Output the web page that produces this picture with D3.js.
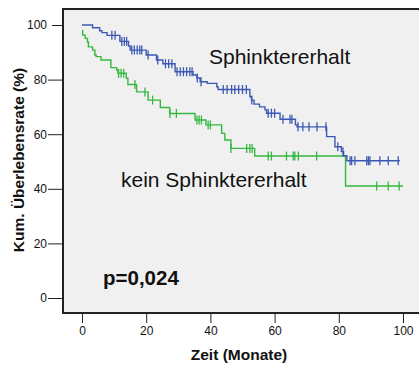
<!DOCTYPE html>
<html>
<head>
<meta charset="utf-8">
<script src="https://cdn.jsdelivr.net/npm/d3@7"></script>
<style>
  body { margin: 0; background: #fff; }
  svg { display: block; font-family: "Liberation Sans", Arial, Helvetica, sans-serif; }
</style>
</head>
<body>
<div id="chart"></div>
<script>
// Kaplan-Meier data (time in months, survival in %)
const sphTimes = [0, 3.3, 5.5, 6.2, 7.8, 11.8, 14.5, 15.0, 20.0, 23.2, 25.2, 29.0, 34.6, 35.8, 36.8, 39.0, 42.0, 42.4,
    52.3, 52.8, 53.6, 55.3, 57.0, 57.5, 61.7, 66.5, 67.0, 76.2, 78.8, 80.8, 81.5, 82.5];
const sphSurv = [100, 99.0, 97.9, 97.2, 96.2, 94.0, 92.3, 90.8, 89.0, 87.2, 85.8, 82.9, 81.7, 80.6, 79.2, 78.6, 77.4, 76.4,
    73.7, 72.5, 71.0, 70.0, 68.9, 67.7, 65.5, 63.4, 62.7, 59.1, 55.4, 53.6, 52.1, 50.3];
const sphCensor = [9.3, 10.3, 12.4, 13.2, 13.9, 15.5, 16.3, 17.2, 18.0, 18.6, 20.6, 23.6, 26.0, 27.0, 28.0,
    29.6, 30.6, 31.6, 32.6, 33.6, 34.3, 35.9, 37.1, 44.0, 45.2, 46.6, 47.6, 48.8, 50.0, 51.2, 52.9,
    58.0, 59.0, 60.0, 62.6, 64.8, 65.4, 67.3, 68.8, 70.7, 73.2, 76.0, 79.7, 81.3,
    83.5, 84.0, 85.0, 88.7, 89.2, 89.7, 92.8, 95.4, 98.5];
const sphEnd = 99;

const keinTimes = [0, 0.2, 1.0, 1.7, 2.0, 3.3, 4.0, 4.4, 5.9, 9.0, 10.8, 11.2, 13.8, 14.3, 17.0, 20.6, 24.4, 27.3,
    35.2, 38.6, 43.5, 44.5, 46.4, 53.8, 82.1];
const keinSurv = [98, 96.3, 95.1, 93.8, 92.0, 90.8, 89.0, 88.4, 87.2, 84.4, 83.5, 82.3, 80.5, 78.2, 75.5, 72.5, 69.8, 67.6,
    65.2, 63.4, 60.3, 57.9, 54.8, 52.0, 41.0];
const keinCensor = [11.4, 12.2, 13.0, 16.5, 19.6, 22.0, 27.4, 29.4, 35.8, 36.5, 37.2, 39.3, 40.0, 46.4,
    51.3, 52.3, 53.0, 58.0, 59.0, 63.7, 65.8, 66.3, 67.4, 73.1, 91.8, 95.4, 98.8];
const keinEnd = 100;

const xTicks = [0, 20, 40, 60, 80, 100];
const yTicks = [0, 20, 40, 60, 80, 100];

const W = 419, H = 365;
const box = {left: 63, top: 9, right: 425, bottom: 313};

const x = d3.scaleLinear().domain([0, 100]).range([82, 403]);
const y = d3.scaleLinear().domain([0, 100]).range([298, 25]);

const svg = d3.select("#chart").append("svg")
    .attr("width", W)
    .attr("height", H);

// plot frame
svg.append("rect")
    .attr("x", box.left)
    .attr("y", box.top)
    .attr("width", box.right - box.left)
    .attr("height", box.bottom - box.top)
    .attr("fill", "#f0f0f0")
    .attr("stroke", "#222")
    .attr("stroke-width", 2);

// y axis (ticks only, frame is the line)
const yAxis = svg.append("g")
    .attr("transform", `translate(${box.left - 1},0)`)
    .call(d3.axisLeft(y).tickValues(yTicks).tickSize(14).tickPadding(1));
yAxis.select(".domain").remove();
yAxis.selectAll(".tick line").attr("x2", d => d === 100 ? -10 : -14).attr("stroke", "#222");
yAxis.selectAll(".tick text")
    .attr("x", -15)
    .style("font-family", "Liberation Sans, Arial, sans-serif")
    .style("font-size", "12px")
    .attr("fill", "#111");

// x axis
const xAxis = svg.append("g")
    .attr("transform", `translate(0,${box.bottom + 1})`)
    .call(d3.axisBottom(x).tickValues(xTicks).tickSize(9).tickPadding(3));
xAxis.select(".domain").remove();
xAxis.selectAll(".tick line").attr("stroke", "#222");
xAxis.selectAll(".tick text")
    .style("font-family", "Liberation Sans, Arial, sans-serif")
    .style("font-size", "12px")
    .attr("fill", "#111");

// axis titles
svg.append("text")
    .attr("x", 239)
    .attr("y", 360)
    .attr("text-anchor", "middle")
    .style("font-size", "15.5px")
    .style("font-weight", "bold")
    .attr("fill", "#111")
    .text("Zeit (Monate)");

svg.append("text")
    .attr("transform", "translate(24,160) rotate(-90)")
    .attr("text-anchor", "middle")
    .style("font-size", "15.5px")
    .style("font-weight", "bold")
    .attr("fill", "#111")
    .text("Kum. Überlebensrate (%)");

// step curves
const line = d3.line()
    .x(d => x(d[0]))
    .y(d => y(d[1]))
    .curve(d3.curveStepAfter);

function survAt(times, surv, t) {
    let s = surv[0];
    for (let i = 0; i < times.length; i++) {
        if (times[i] <= t) s = surv[i];
    }
    return s;
}

function drawCurve(times, surv, censor, end, colour) {
    const pts = times.map((t, i) => [t, surv[i]]);
    pts.push([end, surv[surv.length - 1]]);
    svg.append("path")
        .datum(pts)
        .attr("d", line)
        .attr("fill", "none")
        .attr("stroke", colour)
        .attr("stroke-width", 1.4);

    svg.append("g").selectAll("line")
        .data(censor)
        .enter().append("line")
        .attr("x1", d => x(d))
        .attr("x2", d => x(d))
        .attr("y1", d => y(survAt(times, surv, d)) - 4.5)
        .attr("y2", d => y(survAt(times, surv, d)) + 4.5)
        .attr("stroke", colour)
        .attr("stroke-width", 1.3);
}

drawCurve(keinTimes, keinSurv, keinCensor, keinEnd, "#35b83f");
drawCurve(sphTimes, sphSurv, sphCensor, sphEnd, "#3c58b4");

// labels
svg.append("text")
    .attr("x", 209)
    .attr("y", 64)
    .style("font-size", "21px")
    .attr("fill", "#111")
    .text("Sphinktererhalt");

svg.append("text")
    .attr("x", 121)
    .attr("y", 187)
    .style("font-size", "21px")
    .attr("fill", "#111")
    .text("kein Sphinktererhalt");

svg.append("text")
    .attr("x", 103)
    .attr("y", 285)
    .style("font-size", "20.5px")
    .style("font-weight", "bold")
    .attr("fill", "#111")
    .text("p=0,024");
</script>
</body>
</html>
